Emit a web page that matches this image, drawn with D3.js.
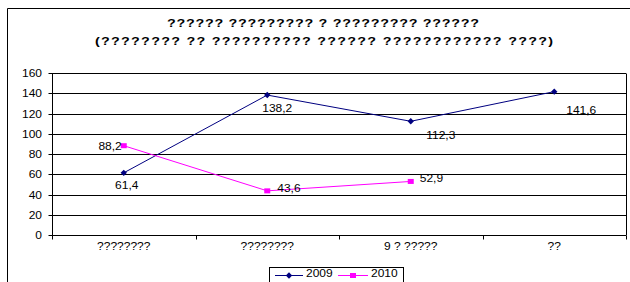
<!DOCTYPE html>
<html>
<head>
<meta charset="utf-8">
<script src="https://cdn.jsdelivr.net/npm/d3@7"></script>
<style>
  html, body { margin: 0; padding: 0; background: #fff; }
  svg { display: block; font-family: "Liberation Sans", Arial, sans-serif; }
</style>
</head>
<body>
<svg id="chart" width="630" height="282"></svg>
<script>
// ---- data ----
const titleLines = [
  "?????? ????????? ? ????????? ??????",
  "(???????? ?? ?????????? ?????? ???????????? ????)"
];
const categories = ["????????", "????????", "9 ? ?????", "??"];
const seriesNames = ["2009", "2010"];
const values2009 = [61.4, 138.2, 112.3, 141.6];
const values2010 = [88.2, 43.6, 52.9];
const valueLabels2009 = ["61,4", "138,2", "112,3", "141,6"];
const valueLabels2010 = ["88,2", "43,6", "52,9"];
const yTicks = [0, 20, 40, 60, 80, 100, 120, 140, 160];

// ---- layout (not data) ----
const labelPos2009 = [[3, 16, "middle"], [10, 17, "middle"], [30, 18, "middle"], [27, 22, "middle"]];
const labelPos2010 = [[-2, 4, "end"], [10, 1, "start"], [9, 1, "start"]];
const SX = 1.2; // horizontal stretch of the reference's text
const TSX = 1.3;

const svg = d3.select("#chart");
const plot = { left: 52, right: 626, top: 73, bottom: 235 };

const catIdx = d3.range(categories.length);
const x = d3.scaleBand().domain(catIdx).range([plot.left, plot.right]).padding(0);
const y = d3.scaleLinear().domain([0, 160]).range([plot.bottom, plot.top]);

function stretchedText(g, tx, ty, str, anchor, size, weight) {
  return g.append("text")
    .attr("transform", `translate(${tx},${ty}) scale(${SX},1)`)
    .attr("text-anchor", anchor)
    .attr("font-size", size)
    .attr("font-weight", weight || "normal")
    .attr("fill", "#000")
    .text(str);
}

// outer frame (cropped at right/bottom)
svg.append("path")
  .attr("d", "M7.5,282 V8.5 H630")
  .attr("fill", "none").attr("stroke", "#000").attr("stroke-width", 1);

// title
const titleG = svg.append("g");
const titleX = [167, 95], titleY = [27, 45], titleW = [312, 458];
titleLines.forEach((t, i) => {
  titleG.append("text")
    .attr("transform", `translate(${titleX[i]},${titleY[i]}) scale(${TSX},1)`)
    .attr("font-size", 11)
    .attr("font-weight", "bold")
    .attr("textLength", titleW[i] / TSX)
    .attr("lengthAdjust", "spacing")
    .text(t);
});

// gridlines
svg.append("g").selectAll("line").data(yTicks).join("line")
  .attr("x1", plot.left).attr("x2", plot.right)
  .attr("y1", d => Math.round(y(d)) + 0.5).attr("y2", d => Math.round(y(d)) + 0.5)
  .attr("stroke", "#000").attr("stroke-width", 1);

// right border of plot area
svg.append("line")
  .attr("x1", plot.right + 0.5).attr("x2", plot.right + 0.5)
  .attr("y1", Math.round(y(160)) + 0.5).attr("y2", Math.round(y(0)) + 0.5)
  .attr("stroke", "#000");

// y axis
const yAxisG = svg.append("g").attr("transform", `translate(${plot.left + 0.5},0.5)`);
yAxisG.append("line").attr("x1", 0).attr("x2", 0)
  .attr("y1", Math.round(y(160))).attr("y2", Math.round(y(0))).attr("stroke", "#000");
yTicks.forEach(t => {
  const yy = Math.round(y(t));
  yAxisG.append("line").attr("x1", -4).attr("x2", 0).attr("y1", yy).attr("y2", yy).attr("stroke", "#000");
});
yTicks.forEach(t => {
  stretchedText(svg, 42, Math.round(y(t)) + 4, String(t), "end", 10);
});

// x axis ticks at category boundaries
const bounds = catIdx.map(i => x(i)).concat([plot.right]);
svg.append("g").selectAll("line").data(bounds).join("line")
  .attr("x1", d => Math.round(d) + 0.5).attr("x2", d => Math.round(d) + 0.5)
  .attr("y1", Math.round(y(0)) + 0.5).attr("y2", Math.round(y(0)) + 4.5)
  .attr("stroke", "#000");
categories.forEach((c, i) => {
  stretchedText(svg, x(i) + x.bandwidth() / 2, 250, c, "middle", 10);
});

const cx = (i) => x(i) + x.bandwidth() / 2;

// series lines
const line = d3.line().x((d, i) => cx(i)).y(d => y(d));
svg.append("path").datum(values2009).attr("d", line)
  .attr("fill", "none").attr("stroke", "#000080").attr("stroke-width", 1);
svg.append("path").datum(values2010).attr("d", line)
  .attr("fill", "none").attr("stroke", "#FF00FF").attr("stroke-width", 1);

// markers
svg.append("g").selectAll("path").data(values2009).join("path")
  .attr("d", (d, i) => {
    const px = cx(i), py = y(d), r = 3.2;
    return `M${px},${py - r} L${px + r},${py} L${px},${py + r} L${px - r},${py} Z`;
  })
  .attr("fill", "#000080");
svg.append("g").selectAll("rect").data(values2010).join("rect")
  .attr("x", (d, i) => cx(i) - 3).attr("y", d => y(d) - 2.5)
  .attr("width", 6).attr("height", 5)
  .attr("fill", "#FF00FF");

// data labels
values2009.forEach((v, i) => {
  const p = labelPos2009[i];
  stretchedText(svg, cx(i) + p[0], y(v) + p[1], valueLabels2009[i], p[2], 10);
});
values2010.forEach((v, i) => {
  const p = labelPos2010[i];
  stretchedText(svg, cx(i) + p[0], y(v) + p[1], valueLabels2010[i], p[2], 10);
});

// legend
const leg = svg.append("g");
leg.append("rect").attr("x", 269.5).attr("y", 267.5).attr("width", 134).attr("height", 30)
  .attr("fill", "#fff").attr("stroke", "#000");
const legColors = ["#000080", "#FF00FF"];
const legLineX = [[275, 303], [338, 368]];
const legTextX = [306, 371];
seriesNames.forEach((s, i) => {
  const ly = 275.5;
  leg.append("line").attr("x1", legLineX[i][0]).attr("x2", legLineX[i][1])
    .attr("y1", ly).attr("y2", ly).attr("stroke", legColors[i]);
  const mx = (legLineX[i][0] + legLineX[i][1]) / 2;
  if (i === 0) {
    const r = 3.2;
    leg.append("path").attr("d", `M${mx},${ly - r} L${mx + r},${ly} L${mx},${ly + r} L${mx - r},${ly} Z`)
      .attr("fill", legColors[i]);
  } else {
    leg.append("rect").attr("x", mx - 3).attr("y", ly - 2.5).attr("width", 6).attr("height", 5)
      .attr("fill", legColors[i]);
  }
  stretchedText(leg, legTextX[i], 276.5, s, "start", 10);
});
</script>
</body>
</html>
